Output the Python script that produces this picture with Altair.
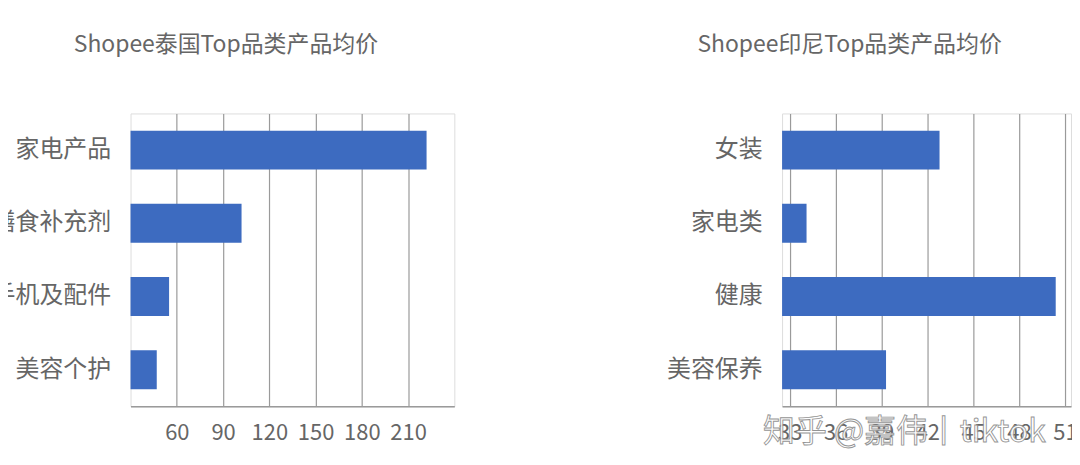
import altair as alt
import pandas as pd

th_categories = ["家电产品", "膳食补充剂", "手机及配件", "美容个护"]
th_values = [222, 102, 55, 47]
th_ticks = [60, 90, 120, 150, 180, 210]

id_categories = ["女装", "家电类", "健康", "美容保养"]
id_values = [42.8, 34.1, 50.4, 39.3]
id_ticks = [33, 36, 39, 42, 45, 48, 51]

FONT = "Noto Sans CJK SC"
BLUE = "#3D6BC0"
TEXT = "#666666"
GRID = "#9a9a9a"

th_df = pd.DataFrame({"cat": th_categories, "val": th_values})
id_df = pd.DataFrame({"cat": id_categories, "val": id_values})


def panel(df, cats, ticks, domain, title, width, dx):
    y = alt.Y("cat:N", sort=cats, title=None,
              scale=alt.Scale(paddingInner=0.47, paddingOuter=0.235),
              axis=alt.Axis(ticks=False, domain=False, grid=False, labelPadding=20,
                            labelFontSize=24, labelColor=TEXT, labelFont=FONT, labelLimit=400))
    x = alt.X("val:Q", title=None,
              scale=alt.Scale(domain=domain, nice=False, zero=False, clamp=True),
              axis=alt.Axis(values=ticks, ticks=False, grid=True, gridColor=GRID, gridWidth=1.2,
                            domainColor=GRID, domainWidth=1.5, labelPadding=16,
                            labelFontSize=22, labelColor=TEXT, labelFont=FONT,
                            labelFlush=False, labelOverlap=False))
    bars = alt.Chart(df).mark_bar(color=BLUE, orient="horizontal").encode(
        y=y, x=x, x2=alt.datum(domain[0]))
    return bars.properties(
        width=width, height=294,
        title=alt.TitleParams(title, anchor="start", frame="group", dx=dx, offset=57,
                              fontSize=23, font=FONT, color=TEXT, fontWeight="normal"))


left = panel(th_df, th_categories, th_ticks, [30, 240],
             "Shopee泰国Top品类产品均价", 325, -57)
right_bars = panel(id_df, id_categories, id_ticks, [32.5, 51.4],
                   "Shopee印尼Top品类产品均价", 290, -85)

watermark = alt.Chart(pd.DataFrame({"t": ["知乎 @嘉伟丨tiktok"]})).mark_text(
    fontSize=32, font=FONT, color="white", stroke="#8a8a8a", strokeWidth=0.9,
    opacity=0.9, align="center", baseline="middle").encode(
    text="t:N", x=alt.datum(40.5), y=alt.value(320))

right = alt.layer(right_bars, watermark)

chart = alt.hconcat(left, right, spacing=211).properties(
    padding={"left": -18, "top": 24, "right": -6, "bottom": 0}
).configure_view(strokeWidth=0).configure(background="white")

chart.save("out.html", embed_options={"renderer": "svg", "actions": False})
